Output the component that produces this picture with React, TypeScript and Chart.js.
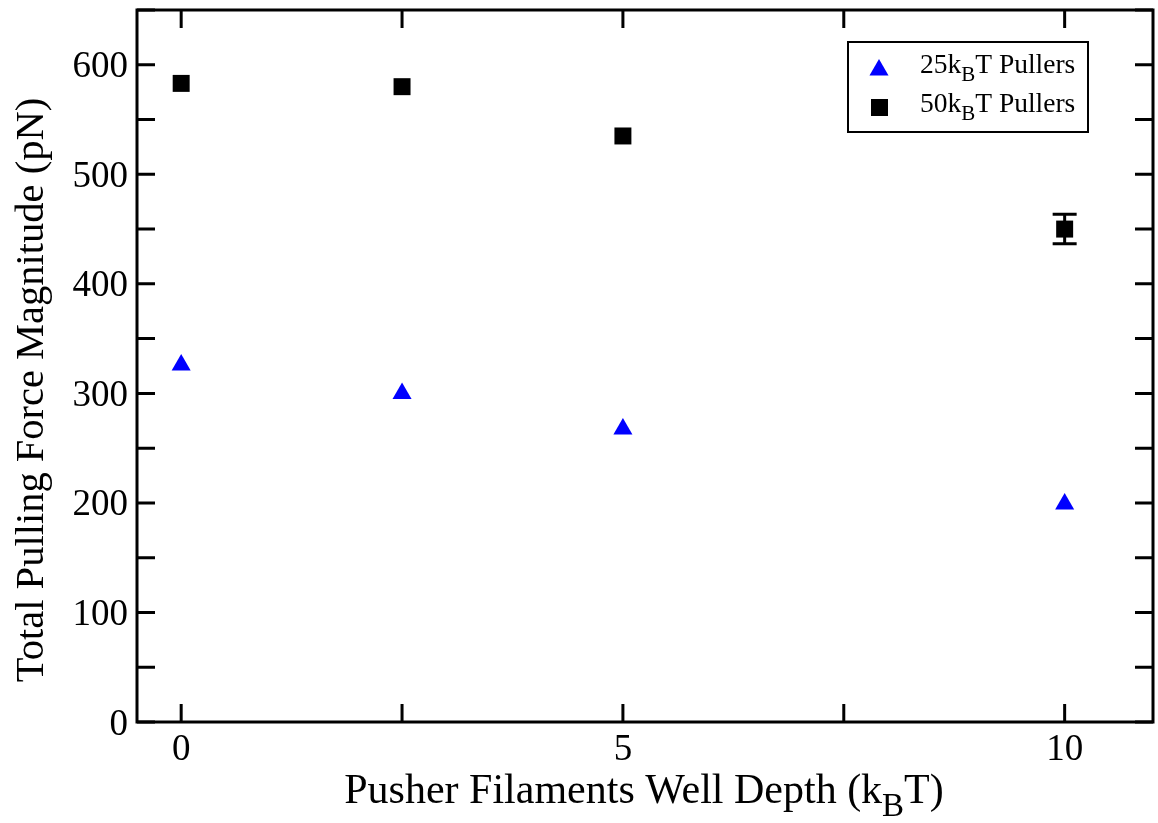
import React, { useEffect, useRef } from "react";
import { Chart, registerables } from "chart.js";

Chart.register(...registerables);

const xValues = [0, 2.5, 5, 10];
const pullers25 = [326, 300, 267.5, 199];
const pullers50 = [583, 580, 535, 450];
const pullers50Err = [0, 0, 0, 13.5];
const xTicks = [0, 2.5, 5, 7.5, 10];
const xTickLabels = [0, 5, 10];
const yTicks = [0, 50, 100, 150, 200, 250, 300, 350, 400, 450, 500, 550, 600, 650];
const yTickLabels = [0, 100, 200, 300, 400, 500, 600];
const legendLabels = [
  { pre: "25k", sub: "B", post: "T Pullers" },
  { pre: "50k", sub: "B", post: "T Pullers" },
];

const FONT = '"Liberation Serif", "Times New Roman", serif';

function drawSubText(ctx: CanvasRenderingContext2D, x: number, y: number, pre: string, sub: string, post: string, size: number, align: "left" | "center", subRatio = 0.75) {
  ctx.save();
  ctx.textBaseline = "alphabetic";
  ctx.textAlign = "left";
  const f = `${size}px ${FONT}`;
  const fs = `${Math.round(size * subRatio)}px ${FONT}`;
  ctx.font = f;
  const w1 = ctx.measureText(pre).width;
  const w3 = ctx.measureText(post).width;
  ctx.font = fs;
  const w2 = ctx.measureText(sub).width;
  const total = w1 + w2 + w3;
  const sx = align === "center" ? x - total / 2 : x;
  ctx.font = f;
  ctx.fillText(pre, sx, y);
  ctx.font = fs;
  ctx.fillText(sub, sx + w1, y + size * 0.3);
  ctx.font = f;
  ctx.fillText(post, sx + w1 + w2, y);
  ctx.restore();
}

const framePlugin = {
  id: "framePlugin",
  afterDatasetsDraw(chart: any) {
    const { ctx, chartArea, scales } = chart;
    const { left, right, top, bottom } = chartArea;
    const xs = scales.x;
    const ys = scales.y;
    ctx.save();
    ctx.strokeStyle = "#000";
    ctx.lineWidth = 3;
    // error bars
    const meta = chart.getDatasetMeta(1);
    meta.data.forEach((pt: any, i: number) => {
      const e = pullers50Err[i];
      if (!e) return;
      const yTop = ys.getPixelForValue(pullers50[i] + e);
      const yBot = ys.getPixelForValue(pullers50[i] - e);
      ctx.beginPath();
      ctx.moveTo(pt.x, yTop);
      ctx.lineTo(pt.x, yBot);
      ctx.moveTo(pt.x - 12, yTop);
      ctx.lineTo(pt.x + 12, yTop);
      ctx.moveTo(pt.x - 12, yBot);
      ctx.lineTo(pt.x + 12, yBot);
      ctx.stroke();
    });
    // frame
    ctx.strokeRect(left, top, right - left, bottom - top);
    // ticks
    const tl = 18;
    ctx.beginPath();
    xTicks.forEach((v) => {
      const px = xs.getPixelForValue(v);
      ctx.moveTo(px, bottom);
      ctx.lineTo(px, bottom - tl);
      ctx.moveTo(px, top);
      ctx.lineTo(px, top + tl);
    });
    yTicks.forEach((v) => {
      const py = ys.getPixelForValue(v);
      ctx.moveTo(left, py);
      ctx.lineTo(left + tl, py);
      ctx.moveTo(right, py);
      ctx.lineTo(right - tl, py);
    });
    ctx.stroke();

    // tick labels
    ctx.fillStyle = "#000";
    ctx.font = `37px ${FONT}`;
    ctx.textAlign = "center";
    ctx.textBaseline = "alphabetic";
    xTickLabels.forEach((v) => {
      ctx.fillText(String(v), xs.getPixelForValue(v), bottom + 38);
    });
    ctx.textAlign = "right";
    yTickLabels.forEach((v) => {
      ctx.fillText(String(v), left - 9, ys.getPixelForValue(v) + 12.5);
    });

    // legend
    ctx.lineWidth = 2;
    ctx.strokeRect(848, 42, 240, 90);
    ctx.fillStyle = "#0000ff";
    const tr = 11;
    const tx = 879, ty = 70;
    ctx.beginPath();
    ctx.moveTo(tx, ty - tr);
    ctx.lineTo(tx + tr * Math.sin(Math.PI * 2 / 3), ty + tr / 2);
    ctx.lineTo(tx - tr * Math.sin(Math.PI * 2 / 3), ty + tr / 2);
    ctx.closePath();
    ctx.fill();
    ctx.fillStyle = "#000";
    ctx.fillRect(871, 99, 17, 17);
    drawSubText(ctx, 920, 73, legendLabels[0].pre, legendLabels[0].sub, legendLabels[0].post, 27.5, "left", 0.78);
    drawSubText(ctx, 920, 112, legendLabels[1].pre, legendLabels[1].sub, legendLabels[1].post, 27.5, "left", 0.78);

    // axis titles
    drawSubText(ctx, 644, 803, "Pusher Filaments Well Depth (k", "B", "T)", 42, "center", 0.78);
    ctx.save();
    ctx.translate(43, 390);
    ctx.rotate(-Math.PI / 2);
    ctx.font = `40.5px ${FONT}`;
    ctx.textAlign = "center";
    ctx.textBaseline = "alphabetic";
    ctx.fillStyle = "#000";
    ctx.fillText("Total Pulling Force Magnitude (pN)", 0, 0);
    ctx.restore();
    ctx.restore();
  },
};

export default function App() {
  const ref = useRef<HTMLCanvasElement | null>(null);
  useEffect(() => {
    if (!ref.current) return;
    const chart = new Chart(ref.current, {
      type: "scatter",
      data: {
        datasets: [
          {
            label: "25kBT Pullers",
            data: xValues.map((x, i) => ({ x, y: pullers25[i] })),
            pointStyle: "triangle",
            pointRadius: 11,
            pointHoverRadius: 11,
            backgroundColor: "#0000ff",
            borderColor: "#0000ff",
            borderWidth: 0,
          },
          {
            label: "50kBT Pullers",
            data: xValues.map((x, i) => ({ x, y: pullers50[i] })),
            pointStyle: "rect",
            pointRadius: 12,
            pointHoverRadius: 12,
            backgroundColor: "#000",
            borderColor: "#000",
            borderWidth: 0,
          },
        ],
      },
      options: {
        animation: false,
        responsive: false,
        events: [],
        layout: { autoPadding: false, padding: { top: 10, right: 5, left: 0, bottom: 0 } },
        plugins: { legend: { display: false }, tooltip: { enabled: false } },
        scales: {
          x: {
            type: "linear",
            min: -0.5,
            max: 11,
            grid: { display: false, drawTicks: false },
            border: { display: false },
            ticks: { display: false },
            afterFit: (s: any) => {
              s.height = 101;
            },
          },
          y: {
            type: "linear",
            min: 0,
            max: 650,
            grid: { display: false, drawTicks: false },
            border: { display: false },
            ticks: { display: false },
            afterFit: (s: any) => {
              s.width = 137;
            },
          },
        },
      },
      plugins: [framePlugin],
    } as any);
    return () => chart.destroy();
  }, []);
  return (
    <div style={{ position: "fixed", left: 0, top: 0, width: 1158, height: 823, background: "#fff" }}>
      <canvas ref={ref} width={1158} height={823} style={{ display: "block" }} />
    </div>
  );
}
